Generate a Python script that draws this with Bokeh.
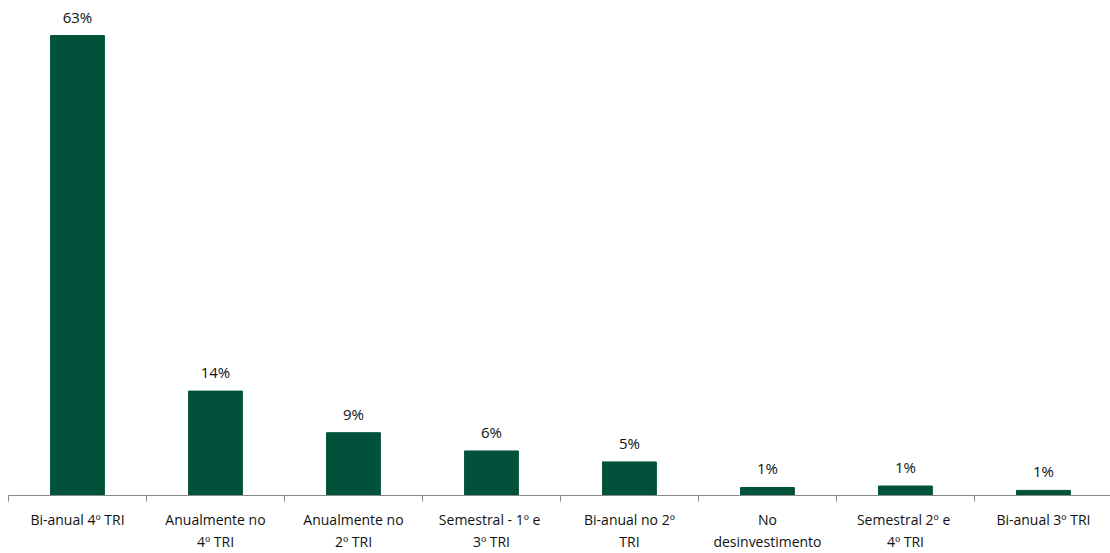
from bokeh.plotting import figure
from bokeh.models import ColumnDataSource, FixedTicker, LinearAxis, Range1d
from bokeh.embed import file_html
from bokeh.resources import INLINE

categories = ["Bi-anual 4º TRI", "Anualmente no\n4º TRI", "Anualmente no\n2º TRI",
              "Semestral - 1º  e\n3º TRI", "Bi-anual no 2º\nTRI", "No\ndesinvestimento",
              "Semestral 2º  e\n4º TRI", "Bi-anual 3º TRI"]
values = [63.0, 14.3, 8.6, 6.1, 4.6, 1.1, 1.3, 0.7]
labels = ["63%", "14%", "9%", "6%", "5%", "1%", "1%", "1%"]

xs = list(range(len(categories)))
src = ColumnDataSource(dict(x=xs, top=values, lab=labels))

p = figure(frame_width=1102, frame_height=495, output_backend="svg", toolbar_location=None,
           x_range=Range1d(-0.5, 7.486), y_range=Range1d(0, 67.8),
           min_border_left=8, min_border_right=0, min_border_top=0, min_border_bottom=0,
           x_axis_location=None, y_axis_location=None)
p.outline_line_color = None
p.xgrid.visible = False
p.ygrid.visible = False
p.background_fill_color = "white"
p.border_fill_color = "white"

p.vbar(x="x", top="top", width=0.39, bottom=0, source=src,
       fill_color="#02523B", line_color="#02523B")
p.text(x="x", y="top", text="lab", source=src, text_align="center",
       text_baseline="bottom", y_offset=-9, text_font_size="15px",
       text_font={"value": "Open Sans"}, text_color="#111111")

ax = LinearAxis()
ax.ticker = FixedTicker(ticks=xs, minor_ticks=[i - 0.5 for i in range(len(categories) + 1)])
ax.major_label_overrides = {i: c for i, c in enumerate(categories)}
ax.major_tick_out = 0
ax.major_tick_in = 0
ax.minor_tick_out = 6
ax.minor_tick_in = 0
ax.minor_tick_line_color = "#898989"
ax.axis_line_color = "#898989"
ax.major_label_text_font = "Open Sans"
ax.major_label_text_font_size = "14px"
ax.major_label_text_color = "#111111"
ax.major_label_standoff = 8
p.add_layout(ax, "below")

open("out.html", "w").write(file_html(p, INLINE))
